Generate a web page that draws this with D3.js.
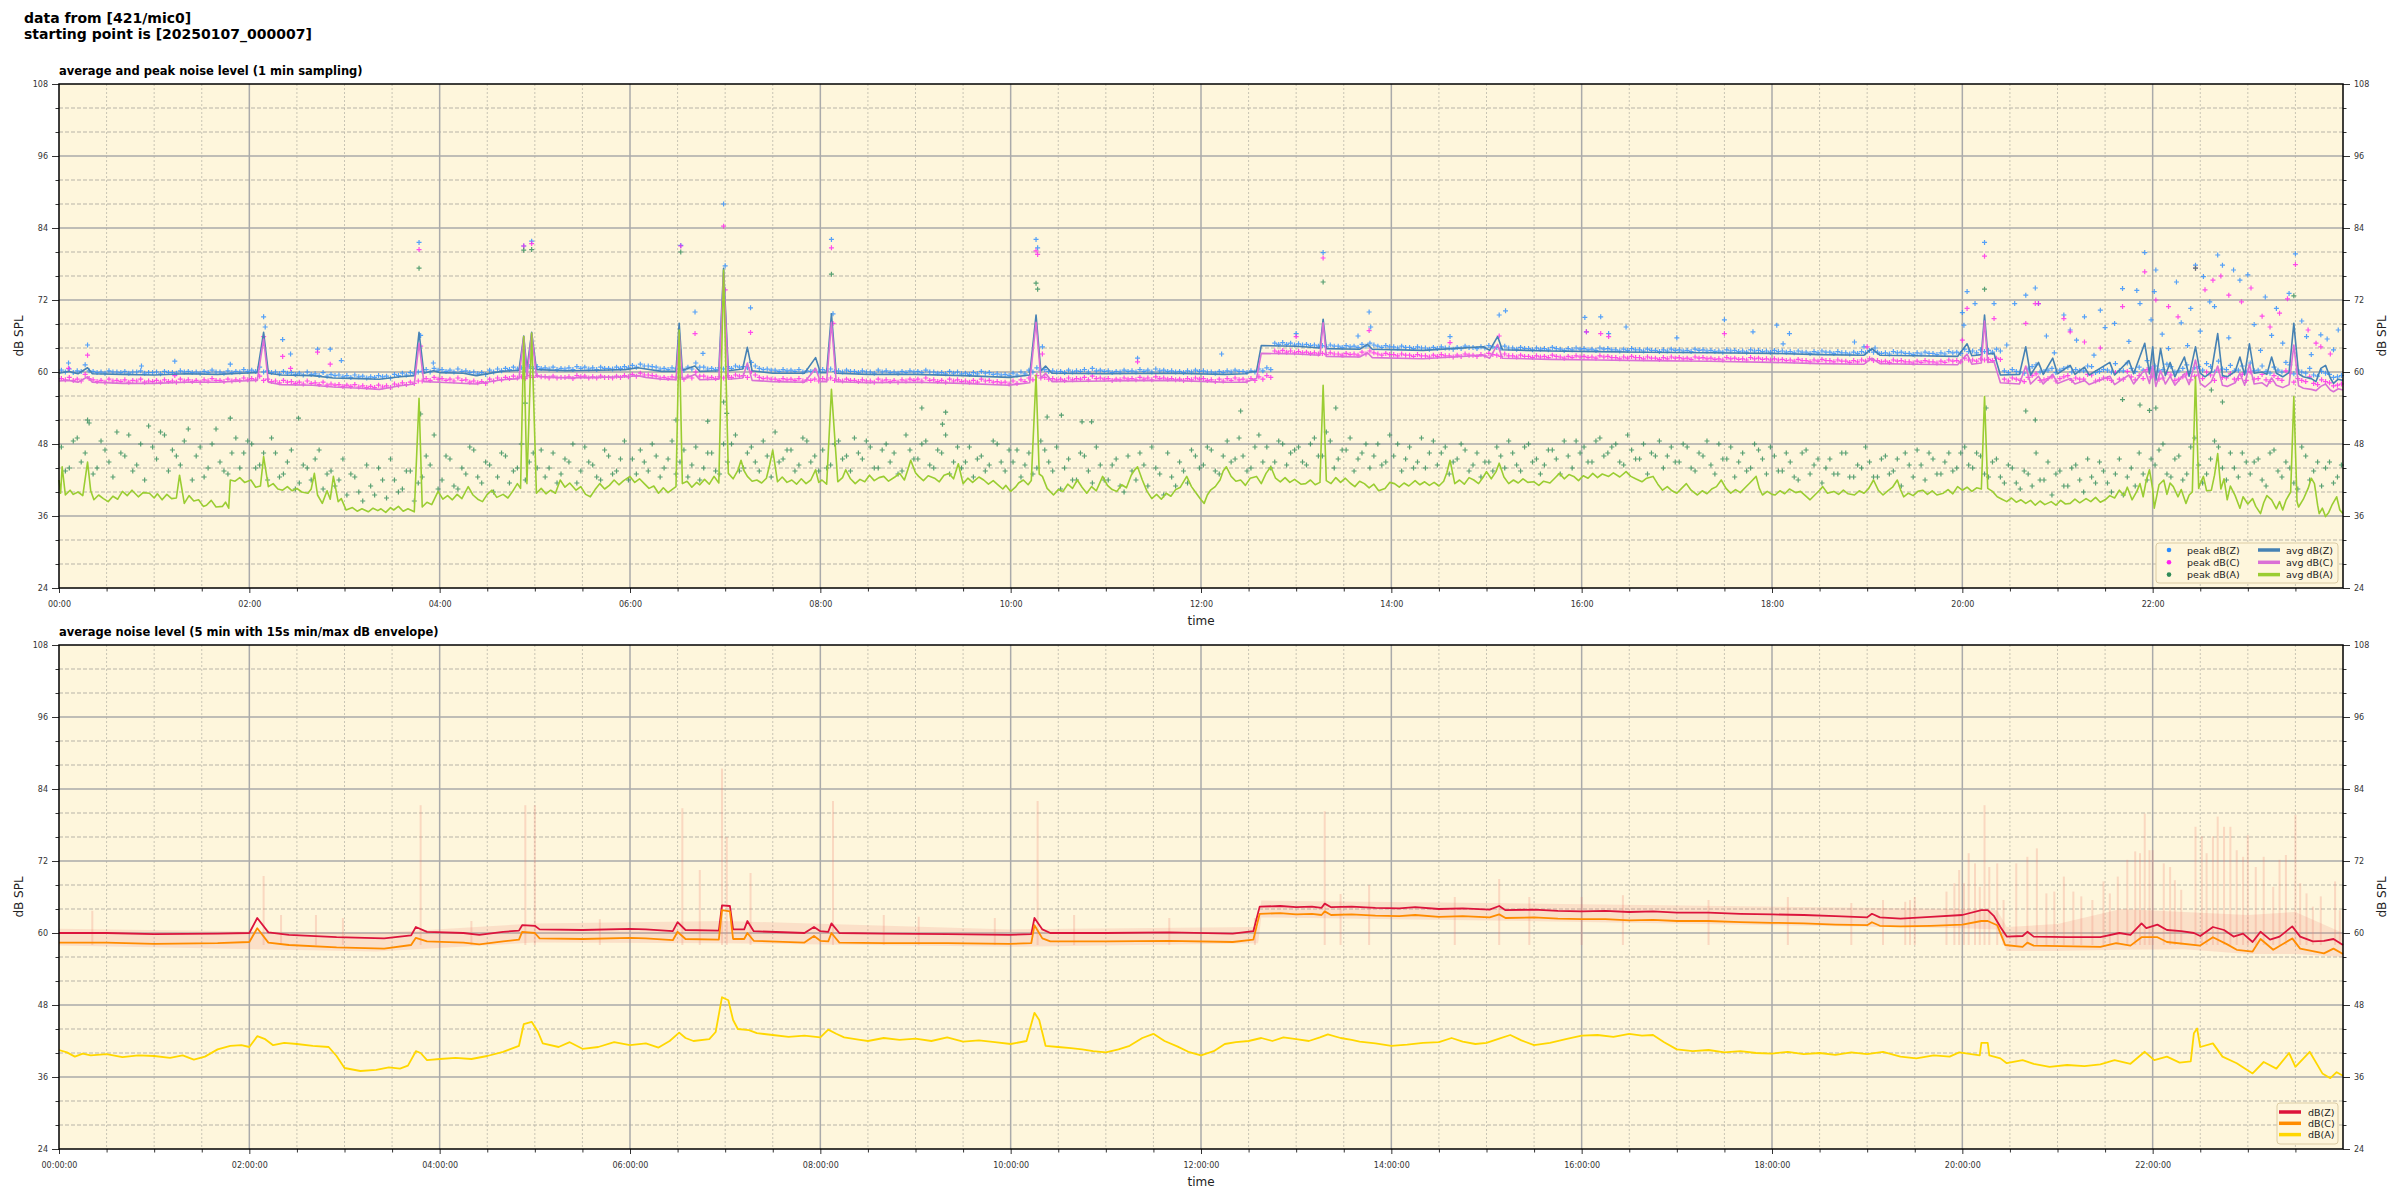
<!DOCTYPE html>
<html lang="en">
<head>
<meta charset="UTF-8">
<title>noise level</title>
<script src="https://cdn.jsdelivr.net/npm/d3@7"></script>
<style>
  body { margin: 0; background: #fff; }
  text { font-family: "DejaVu Sans", sans-serif; fill: #222; }
  .tick text { font-size: 8px; fill: #333; }
  .title { font-weight: bold; font-size: 14px; fill: #000; }
  .subtitle { font-weight: bold; font-size: 11.5px; fill: #000; }
  .label { font-size: 12px; fill: #222; }
  .legend text { font-size: 9.5px; fill: #222; }
  .domain { display: none; }
</style>
</head>
<body>
<svg width="2400" height="1200"></svg>
<script>
// ---- data (minutes from 00:00, dB SPL) ----
var hourTicks = [0, 120, 240, 360, 480, 600, 720, 840, 960, 1080, 1200, 1320];
var yMajor = [24, 36, 48, 60, 72, 84, 96, 108];

// 1 min averages, breakpoints [minute, dB]
var avgZ = [[0,59.8],[6,60.1],[12,59.7],[18,60.7],[21,59.7],[40,59.6],[60,59.5],[80,59.7],[100,59.6],[115,59.8],[125,59.9],[129,66.6],[132,59.8],[140,59.5],[160,59.4],[173,59.0],[190,58.9],[202,58.8],[215,59.2],[224,59.4],[227,66.6],[230,59.8],[236,60.2],[240,59.9],[255,59.8],[263,59.4],[279,60.1],[290,60.3],[293,66.0],[295,60.4],[298,66.6],[301,60.4],[320,60.2],[340,60.3],[357,60.4],[365,60.7],[370,60.5],[380,60.1],[389,60.1],[391,68.1],[393,60.3],[401,61.0],[404,60.1],[416,60.2],[419,77.3],[422,60.2],[431,60.5],[434,64.1],[437,60.2],[450,59.8],[470,59.8],[477,62.4],[480,59.9],[484,59.9],[487,69.7],[490,59.8],[510,59.6],[540,59.6],[570,59.4],[599,59.1],[612,59.5],[616,69.5],[619,60.2],[622,61.0],[626,59.8],[660,59.7],[700,59.8],[735,59.6],[748,59.7],[751,60.0],[755,60.1],[758,64.4],[780,64.3],[795,64.0],[797,68.8],[799,63.9],[820,63.8],[825,64.6],[828,63.8],[860,63.6],[898,64.2],[902,63.6],[907,65.9],[910,63.7],[940,63.5],[970,63.4],[1000,63.3],[1040,63.2],[1080,63.1],[1110,62.9],[1138,62.8],[1143,63.9],[1148,62.8],[1170,62.7],[1197,62.6],[1203,64.7],[1206,62.7],[1212,62.9],[1214,69.5],[1216,63.0],[1220,63.1],[1224,59.5],[1236,59.6],[1240,64.2],[1243,59.5],[1248,61.6],[1251,59.6],[1257,62.3],[1260,59.7],[1268,61.1],[1271,59.6],[1277,60.8],[1280,59.5],[1293,61.6],[1296,59.5],[1305,61.9],[1308,59.7],[1315,64.8],[1318,59.7],[1320,64.2],[1322,58.6],[1325,63.9],[1328,59.4],[1331,61.6],[1334,59.2],[1340,62.5],[1343,59.3],[1347,64.2],[1350,59.8],[1353,59.2],[1357,60.0],[1361,66.4],[1364,59.4],[1367,59.2],[1372,60.1],[1375,62.5],[1378,59.5],[1381,64.7],[1384,59.8],[1389,60.0],[1392,59.6],[1395,62.5],[1398,59.8],[1402,59.2],[1406,59.9],[1409,68.1],[1412,59.7],[1415,59.2],[1420,58.9],[1423,58.4],[1426,60.6],[1429,61.1],[1432,59.0],[1434,58.1],[1437,58.8],[1440,58.6]];

var avgC = [[0,58.5],[6,58.6],[12,58.3],[18,59.2],[21,58.3],[40,58.1],[60,58.1],[80,58.3],[100,58.3],[115,58.5],[125,58.6],[129,65.5],[132,58.3],[140,57.9],[160,57.8],[173,57.5],[190,57.3],[202,57.1],[215,57.7],[224,58.0],[227,64.8],[230,58.4],[240,58.3],[263,58.0],[279,58.7],[290,58.9],[293,65.9],[295,59.1],[298,66.4],[301,59.3],[320,59.0],[340,59.1],[357,59.2],[365,59.4],[370,59.1],[380,58.8],[389,58.7],[391,66.5],[393,58.8],[401,59.6],[404,58.7],[416,58.8],[419,76.5],[422,58.8],[431,59.0],[434,61.5],[437,58.6],[450,58.4],[470,58.3],[477,60.6],[480,58.4],[484,58.4],[487,68.3],[490,58.4],[510,58.2],[540,58.3],[570,58.1],[599,57.8],[612,58.2],[616,68.3],[619,59.0],[622,59.8],[626,58.4],[660,58.5],[700,58.6],[735,58.3],[748,58.3],[751,58.6],[755,58.9],[758,63.1],[780,63.0],[795,62.8],[797,68.2],[799,62.6],[820,62.5],[825,63.2],[828,62.4],[860,62.2],[898,62.8],[902,62.3],[907,64.6],[910,62.3],[940,62.1],[970,62.0],[1000,61.9],[1040,61.8],[1080,61.6],[1110,61.4],[1138,61.3],[1143,62.3],[1148,61.4],[1170,61.3],[1197,61.2],[1203,63.0],[1206,61.3],[1212,61.5],[1214,68.5],[1216,61.6],[1220,61.7],[1224,58.2],[1236,58.0],[1240,61.0],[1243,58.0],[1248,59.3],[1251,58.0],[1257,59.6],[1260,58.1],[1268,58.9],[1271,58.0],[1277,58.6],[1280,57.9],[1293,59.3],[1296,57.9],[1305,59.5],[1308,58.0],[1315,60.4],[1318,58.1],[1320,61.0],[1322,57.6],[1325,60.2],[1328,58.0],[1331,59.3],[1334,57.8],[1340,59.7],[1343,57.9],[1347,62.0],[1350,58.1],[1353,57.5],[1357,58.4],[1361,61.0],[1364,57.8],[1367,57.6],[1372,58.2],[1375,59.8],[1378,57.8],[1381,61.3],[1384,58.0],[1389,58.2],[1392,57.6],[1395,59.0],[1398,57.8],[1402,57.4],[1406,57.9],[1409,64.5],[1412,57.7],[1415,57.3],[1420,57.1],[1423,56.9],[1426,57.6],[1429,58.0],[1432,57.0],[1434,56.7],[1437,57.2],[1440,57.0]];

var avgA = [[0,42.0],[1,39.8],[2,44.2],[4,39.5],[7,40.3],[9,39.6],[12,40.0],[15,39.4],[18,45.0],[20,40.2],[22,38.7],[25,39.5],[28,38.9],[31,38.4],[34,39.3],[37,38.8],[40,40.1],[43,39.4],[46,40.3],[50,39.2],[53,39.9],[57,39.8],[60,39.0],[62,39.7],[65,38.7],[68,39.6],[71,38.9],[74,39.0],[76,42.8],[79,38.1],[82,39.4],[85,38.5],[88,38.7],[91,37.6],[93,37.8],[96,38.6],[99,37.5],[103,37.6],[105,38.3],[107,37.3],[108,42.0],[111,41.8],[114,42.4],[117,41.6],[121,42.0],[124,40.8],[127,41.0],[129,45.9],[132,40.9],[135,41.4],[138,40.5],[141,40.3],[144,40.9],[147,40.2],[150,40.6],[153,40.0],[157,39.8],[159,40.5],[161,43.1],[163,39.5],[166,38.1],[169,40.2],[171,38.8],[173,42.6],[176,38.4],[178,38.9],[181,37.0],[185,37.4],[188,36.8],[191,37.2],[195,36.7],[198,37.3],[201,36.9],[203,37.2],[206,36.6],[209,37.4],[211,37.0],[214,37.6],[217,36.8],[220,37.2],[224,36.7],[227,55.6],[229,37.5],[232,38.3],[235,37.9],[239,40.1],[242,38.8],[245,39.4],[248,38.7],[251,39.6],[254,38.9],[258,40.9],[261,39.5],[264,38.8],[267,38.4],[270,39.6],[273,40.3],[276,39.1],[280,39.6],[283,39.0],[286,40.1],[289,41.4],[291,40.6],[293,65.9],[295,41.4],[298,66.5],[301,39.8],[304,40.6],[307,39.7],[310,40.3],[313,39.8],[316,42.0],[319,40.8],[322,41.5],[326,40.3],[329,40.9],[332,39.6],[335,39.2],[338,40.4],[341,41.4],[344,40.5],[347,41.1],[350,42.0],[353,41.2],[356,41.9],[360,42.6],[363,41.6],[366,42.2],[369,41.4],[372,40.6],[375,41.0],[378,39.8],[381,40.7],[384,39.9],[386,40.3],[389,40.9],[391,67.0],[393,41.4],[396,41.8],[399,40.8],[402,41.6],[404,41.2],[407,42.1],[410,41.3],[413,42.6],[416,41.5],[419,77.0],[422,43.1],[425,42.2],[428,43.6],[430,45.3],[432,43.5],[434,42.6],[437,41.8],[440,42.0],[443,41.5],[446,42.3],[448,44.5],[450,47.0],[453,41.7],[456,42.5],[459,41.6],[462,42.0],[465,41.3],[468,42.2],[471,41.4],[474,42.0],[477,43.7],[479,41.6],[481,42.0],[484,41.3],[487,57.1],[491,41.7],
[494,42.4],[496,43.7],[499,42.2],[502,41.4],[505,42.1],[508,41.7],[511,42.8],[514,41.9],[517,42.4],[520,42.6],[523,41.8],[527,42.5],[530,43.1],[533,42.0],[535,43.6],[537,45.3],[540,43.2],[542,42.6],[545,41.9],[548,42.7],[552,42.3],[555,41.7],[558,42.8],[561,43.1],[564,42.2],[567,44.7],[570,41.4],[573,42.3],[576,41.6],[580,42.5],[583,42.0],[586,41.3],[589,41.9],[592,41.2],[595,40.5],[597,41.1],[600,40.1],[603,40.8],[605,41.5],[608,42.0],[611,41.2],[613,41.9],[616,59.5],[618,43.0],[620,42.6],[623,40.6],[627,39.5],[630,40.4],[633,40.1],[636,41.3],[639,40.6],[642,42.0],[645,40.8],[648,39.8],[651,40.9],[654,40.2],[658,42.6],[661,41.1],[664,40.4],[667,40.1],[670,41.2],[673,40.7],[676,42.8],[678,43.6],[680,44.2],[683,42.0],[686,40.1],[689,38.9],[692,39.6],[695,38.8],[698,39.8],[701,39.3],[704,40.4],[707,40.8],[711,42.6],[714,40.9],[717,39.8],[720,38.7],[722,38.1],[724,39.5],[726,40.3],[729,40.9],[732,42.0],[734,43.5],[736,44.2],[739,42.6],[742,41.8],[745,42.0],[748,41.1],[751,42.3],[755,42.6],[758,41.4],[761,43.1],[764,44.2],[767,42.3],[770,41.7],[773,42.4],[776,41.6],[779,42.1],[783,41.3],[786,41.4],[789,42.0],[792,41.2],[795,41.6],[797,57.8],[799,41.9],[802,41.4],[805,42.4],[808,41.6],[811,42.3],[814,41.5],[817,40.9],[820,41.8],[823,41.4],[826,40.7],[829,41.3],[832,40.2],[836,40.6],[839,41.6],[842,41.4],[845,40.8],[848,41.5],[851,41.0],[855,41.9],[858,41.2],[861,41.7],[864,41.1],[867,41.6],[870,41.0],[873,41.8],[875,43.2],[877,45.3],[880,41.4],[883,42.0],[886,41.3],[889,42.4],[892,42.0],[895,41.4],[898,42.5],[900,43.4],[903,42.2],[906,43.4],[908,44.8],[911,42.5],[914,41.4],[917,42.0],[920,41.5],[923,42.2],[926,41.6],[930,41.7],[933,41.1],[936,41.8],[940,41.5],[943,42.3],[946,43.1],[949,42.2],[952,42.9],[955,42.6],[958,41.9],[961,42.7],[964,42.3],[967,43.1],
[970,42.4],[973,43.0],[977,42.6],[980,43.2],[984,42.5],[988,43.4],[991,42.6],[994,42.2],[998,41.7],[1001,42.3],[1005,42.6],[1008,41.3],[1011,40.3],[1014,40.9],[1017,40.2],[1020,39.8],[1023,40.6],[1026,41.4],[1029,40.3],[1033,39.5],[1036,40.2],[1039,39.7],[1042,40.5],[1045,40.9],[1048,42.0],[1051,40.6],[1054,39.8],[1057,40.4],[1060,39.9],[1063,40.7],[1066,41.5],[1070,42.6],[1072,40.6],[1074,39.5],[1077,40.1],[1080,39.6],[1082,39.5],[1085,40.2],[1088,39.7],[1091,40.5],[1095,39.9],[1098,40.1],[1101,39.4],[1104,38.7],[1107,39.5],[1110,40.3],[1112,40.9],[1115,39.8],[1119,40.1],[1122,39.6],[1125,40.3],[1128,39.7],[1132,39.5],[1135,40.2],[1138,39.8],[1141,40.6],[1144,42.0],[1147,40.3],[1150,39.5],[1153,40.2],[1156,40.8],[1159,42.0],[1161,40.4],[1163,39.2],[1166,39.8],[1169,39.4],[1172,40.1],[1175,40.3],[1178,39.6],[1181,40.2],[1184,39.5],[1188,39.8],[1191,40.4],[1194,39.7],[1197,40.9],[1200,40.3],[1203,40.8],[1206,40.1],[1209,40.7],[1212,40.5],[1214,55.9],[1216,40.6],[1219,40.1],[1222,39.2],[1225,38.8],[1228,38.4],[1231,39.0],[1234,38.3],[1237,38.7],[1240,38.1],[1243,38.6],[1246,37.8],[1249,38.5],[1252,37.9],[1256,38.4],[1259,37.8],[1262,38.6],[1265,38.0],[1268,38.1],[1271,38.8],[1274,38.2],[1278,38.9],[1281,38.4],[1284,39.1],[1287,38.3],[1290,38.7],[1293,39.4],[1296,39.0],[1299,40.3],[1302,39.4],[1304,40.8],[1307,38.7],[1310,40.1],[1312,41.4],[1314,39.2],[1316,42.0],[1318,43.7],[1320,40.5],[1321,37.3],[1324,41.2],[1327,42.0],[1329,39.6],[1331,41.5],[1333,40.9],[1336,39.2],[1338,40.4],[1341,38.1],[1343,39.5],[1345,40.0],[1347,59.2],[1349,40.6],[1350,41.4],[1352,42.6],[1354,40.2],[1357,40.3],[1359,42.8],[1361,46.4],[1363,40.5],[1365,42.2],[1367,38.7],[1369,41.0],[1372,39.4],[1375,37.3],[1377,39.2],[1380,38.0],[1383,38.9],[1385,37.6],[1388,36.4],[1390,38.2],[1392,39.4],[1395,38.7],[1398,37.2],[1400,38.4],[1402,37.0],[1404,38.6],[1407,40.0],[1409,55.9],[1411,38.4],[1412,37.5],[1415,38.8],[1418,40.6],[1420,42.3],[1422,41.4],[1424,37.8],[1425,36.4],[1427,37.3],[1429,35.9],[1431,36.6],[1433,37.8],[1436,39.2],[1438,37.0],[1440,36.4]];

// peak values, one every 5 minutes (12 per hour, one row per hour), two samples per slot
var peakZ5 = [
60.3,60.5,60.2,61.2,60.1,60.0,60.2,60.0,60.1,60.0,60.2,59.9,
60.0,60.1,59.9,60.2,60.1,60.0,60.1,60.3,60.0,60.2,60.1,60.4,
60.3,60.8,60.2,60.0,60.1,59.9,59.8,60.0,59.7,59.9,59.6,59.5,
59.4,59.5,59.3,59.2,59.4,59.3,59.6,59.8,59.9,60.0,60.4,60.6,
60.4,60.3,60.5,60.2,60.0,59.9,60.3,60.5,60.6,60.8,60.7,60.9,
60.9,60.7,60.8,60.6,60.7,60.9,60.8,60.7,60.8,60.6,60.8,60.9,
61.1,61.3,61.0,60.8,60.6,60.7,60.6,60.8,61.5,60.8,60.6,60.7,
60.9,61.0,60.9,61.6,60.6,60.5,60.3,60.4,60.3,60.4,60.2,60.3,
60.4,60.5,60.2,60.3,60.1,60.2,60.0,60.3,60.2,60.0,60.1,60.2,
60.1,60.3,60.0,59.9,60.1,60.0,59.8,59.9,60.1,59.9,59.7,59.6,
59.8,60.0,60.3,60.7,60.4,60.2,60.1,60.3,60.2,60.4,60.6,60.3,
60.2,60.1,60.3,60.2,60.4,60.3,60.5,60.3,60.2,60.1,60.2,60.3,
60.2,60.0,60.1,60.2,60.3,60.1,60.2,60.5,60.7,64.8,64.9,64.8,
64.7,64.6,64.5,64.4,64.5,64.3,64.4,64.3,64.6,64.8,64.3,64.4,
64.2,64.3,64.1,64.2,64.0,64.1,64.2,64.0,64.1,64.3,64.1,64.2,
64.4,64.1,64.3,64.0,64.1,63.9,64.0,63.9,64.1,63.8,63.9,64.0,
63.9,63.8,64.0,63.9,63.7,63.8,63.9,63.7,63.8,63.6,63.7,63.8,
63.7,63.6,63.8,63.7,63.6,63.5,63.7,63.6,63.5,63.7,63.6,63.5,
63.6,63.5,63.4,63.5,63.3,63.4,63.5,63.3,63.4,63.2,63.3,63.4,
63.6,63.3,63.2,63.4,63.3,63.1,63.2,63.3,63.1,63.2,63.4,63.3,
63.8,63.5,63.7,63.6,63.8,60.2,60.4,60.0,60.5,61.2,60.1,60.6,
60.3,60.8,60.4,60.2,60.9,60.1,60.3,61.4,60.2,60.6,60.8,61.9,
61.0,60.4,60.9,60.2,61.2,60.7,60.3,60.9,61.8,60.4,60.2,61.0,
61.5,60.3,60.1,60.8,60.0,61.2,60.3,59.8,59.5,60.1,59.6,59.2];
var peakZ5b = [
60.0,59.9,60.1,60.2,59.9,59.8,60.0,59.9,59.8,60.0,59.8,59.9,
59.7,59.9,59.8,60.0,59.9,59.8,59.9,60.0,59.8,59.9,60.0,60.1,
60.1,60.0,59.9,59.7,59.8,59.6,59.5,59.6,59.4,59.3,59.4,59.2,
59.1,59.2,59.0,59.1,59.2,59.0,59.4,59.5,59.7,60.1,60.0,60.3,
60.1,60.0,60.1,59.9,59.7,59.6,60.0,60.2,60.4,60.5,60.4,60.6,
60.6,60.5,60.4,60.5,60.4,60.6,60.5,60.4,60.6,60.5,60.6,60.7,
60.8,61.0,60.9,60.5,60.4,60.5,60.3,60.5,60.8,60.5,60.4,60.5,
60.6,60.8,60.7,61.0,60.4,60.3,60.1,60.2,60.1,60.0,60.1,60.0,
60.2,60.1,60.0,60.1,59.9,60.0,59.8,60.0,59.9,59.8,59.9,60.0,
59.9,60.0,59.8,59.7,59.8,59.7,59.6,59.7,59.8,59.6,59.5,59.4,
59.5,59.7,60.0,60.3,60.1,60.0,59.9,60.0,60.1,60.0,60.2,60.1,
59.9,60.0,60.1,60.0,60.1,60.0,60.2,60.1,60.0,59.9,60.0,60.1,
60.0,59.8,59.9,60.0,60.1,59.9,60.0,60.2,60.4,64.6,64.6,64.5,
64.5,64.4,64.3,64.2,64.3,64.1,64.2,64.1,64.3,64.5,64.1,64.2,
64.0,64.1,63.9,64.0,63.8,63.9,64.0,63.8,63.9,64.1,63.9,64.0,
64.2,63.9,64.0,63.8,63.9,63.7,63.8,63.7,63.9,63.6,63.7,63.8,
63.7,63.6,63.8,63.7,63.5,63.6,63.7,63.5,63.6,63.4,63.5,63.6,
63.5,63.4,63.6,63.5,63.4,63.3,63.5,63.4,63.3,63.5,63.4,63.3,
63.4,63.3,63.2,63.3,63.1,63.2,63.3,63.1,63.2,63.0,63.1,63.2,
63.3,63.1,63.0,63.2,63.1,62.9,63.0,63.1,62.9,63.0,63.2,63.1,
63.4,63.2,63.4,63.3,63.5,59.9,60.1,59.8,60.9,60.0,60.3,59.9,
60.6,60.0,60.2,61.0,59.9,60.4,60.0,60.2,61.5,60.1,60.3,60.6,
60.2,61.3,60.0,60.6,60.1,60.9,61.4,60.0,60.5,61.1,60.3,60.0,
60.2,61.0,59.8,60.3,61.6,59.7,60.0,60.6,59.3,59.8,59.1,59.4];

var peakC5 = [
58.9,59.1,58.8,59.6,58.7,58.6,58.8,58.6,58.7,58.6,58.8,58.5,
58.6,58.7,58.5,58.8,58.7,58.6,58.7,58.9,58.6,58.8,58.7,59.0,
58.9,59.3,58.8,58.5,58.6,58.4,58.3,58.5,58.2,58.3,58.0,57.9,
57.8,57.9,57.7,57.6,57.8,57.7,58.0,58.2,58.3,58.5,58.9,59.1,
58.9,58.8,59.0,58.7,58.5,58.4,58.8,59.0,59.1,59.3,59.2,59.4,
59.4,59.2,59.3,59.1,59.2,59.4,59.3,59.2,59.3,59.1,59.3,59.4,
59.6,59.8,59.5,59.3,59.1,59.2,59.1,59.3,60.0,59.3,59.1,59.2,
59.4,59.5,59.4,60.1,59.1,59.0,58.8,58.9,58.8,58.9,58.7,58.8,
58.9,59.0,58.7,58.8,58.6,58.7,58.5,58.8,58.7,58.6,58.7,58.8,
58.8,59.0,58.7,58.6,58.8,58.7,58.5,58.6,58.8,58.6,58.4,58.3,
58.5,58.7,59.0,59.4,59.1,58.9,58.8,59.0,58.9,59.1,59.3,59.0,
58.9,58.8,59.0,58.9,59.1,59.0,59.2,59.0,58.9,58.8,58.9,59.0,
58.9,58.7,58.8,58.9,59.0,58.8,58.9,59.2,59.4,63.5,63.6,63.5,
63.4,63.3,63.2,63.1,63.2,63.0,63.1,63.0,63.3,63.5,63.0,63.1,
62.9,63.0,62.8,62.9,62.7,62.8,62.9,62.7,62.8,63.0,62.8,62.9,
63.1,62.8,63.0,62.7,62.8,62.6,62.7,62.6,62.8,62.5,62.6,62.7,
62.6,62.5,62.7,62.6,62.4,62.5,62.6,62.4,62.5,62.3,62.4,62.5,
62.4,62.3,62.5,62.4,62.3,62.2,62.4,62.3,62.2,62.4,62.3,62.2,
62.2,62.1,62.0,62.1,61.9,62.0,62.1,61.9,62.0,61.8,61.9,62.0,
62.2,61.9,61.8,62.0,61.9,61.7,61.8,61.9,61.7,61.8,62.0,61.9,
62.3,62.0,62.2,62.1,62.3,58.8,59.0,58.6,59.1,59.7,58.7,59.2,
58.9,59.4,59.0,58.8,59.5,58.7,58.9,59.9,58.8,59.2,59.4,60.4,
59.5,59.0,59.5,58.8,59.7,59.3,58.9,59.5,60.3,59.0,58.8,59.6,
60.0,58.9,58.7,59.4,58.6,59.8,58.9,58.4,58.1,58.7,58.2,57.8];
var peakC5b = [
58.7,58.6,58.5,58.9,58.4,58.3,58.5,58.4,58.3,58.5,58.3,58.4,
58.3,58.4,58.3,58.5,58.4,58.3,58.5,58.6,58.4,58.5,58.6,58.7,
58.7,58.6,58.4,58.2,58.3,58.1,58.0,58.1,57.9,57.8,57.8,57.6,
57.6,57.5,57.4,57.4,57.5,57.4,57.8,57.9,58.1,58.5,58.6,58.8,
58.6,58.5,58.6,58.3,58.2,58.1,58.5,58.7,58.9,59.0,58.9,59.1,
59.2,59.0,59.0,59.1,58.9,59.2,59.0,59.0,59.1,59.0,59.1,59.2,
59.3,59.5,59.4,59.0,58.9,59.0,58.8,59.0,59.3,59.0,58.9,59.0,
59.1,59.3,59.1,59.5,58.9,58.8,58.6,58.7,58.6,58.5,58.6,58.5,
58.7,58.6,58.5,58.6,58.4,58.5,58.3,58.5,58.4,58.3,58.5,58.6,
58.5,58.6,58.4,58.3,58.5,58.4,58.3,58.3,58.5,58.3,58.2,58.0,
58.1,58.4,58.7,59.0,58.8,58.7,58.6,58.7,58.8,58.7,58.9,58.8,
58.6,58.7,58.8,58.7,58.8,58.7,58.9,58.8,58.7,58.6,58.7,58.8,
58.6,58.4,58.5,58.6,58.7,58.5,58.6,58.8,59.1,63.3,63.3,63.2,
63.2,63.1,63.0,62.9,63.0,62.8,62.9,62.8,63.0,63.2,62.8,62.9,
62.7,62.8,62.6,62.7,62.5,62.6,62.7,62.5,62.6,62.8,62.6,62.7,
62.9,62.6,62.7,62.5,62.6,62.4,62.5,62.4,62.6,62.3,62.4,62.5,
62.4,62.3,62.5,62.4,62.2,62.3,62.4,62.2,62.3,62.1,62.2,62.3,
62.2,62.1,62.3,62.2,62.1,62.0,62.2,62.1,62.0,62.2,62.1,62.0,
62.0,61.9,61.8,61.9,61.7,61.8,61.9,61.7,61.8,61.6,61.7,61.8,
61.9,61.7,61.6,61.8,61.7,61.5,61.6,61.7,61.5,61.6,61.8,61.7,
62.0,61.8,62.0,61.9,62.1,58.5,58.8,58.4,59.4,58.6,58.9,58.5,
59.2,58.6,58.8,59.6,58.5,59.0,58.6,58.8,60.1,58.7,58.9,59.2,
58.8,59.9,58.6,59.2,58.7,59.5,60.0,58.6,59.1,59.7,58.9,58.6,
58.8,59.6,58.4,58.9,60.2,58.3,58.6,59.2,57.9,58.4,57.7,58.0];

var peakA5 = [
47.5,44.0,49.0,46.5,43.0,48.5,45.0,50.0,46.0,43.5,48.0,51.0,
45.5,49.5,47.0,44.5,50.5,46.0,42.5,48.0,45.0,43.0,49.0,46.5,
48.0,44.5,42.0,46.5,43.0,47.0,41.5,44.0,45.5,40.5,43.5,42.0,
39.5,42.5,38.5,41.0,44.0,39.0,42.0,40.5,43.5,41.5,46.0,49.5,
42.0,45.5,40.5,43.0,47.0,41.5,44.5,42.5,46.0,43.5,48.0,45.0,
44.0,42.5,46.5,43.0,45.0,41.5,47.5,44.5,42.0,46.0,43.5,48.5,
45.5,47.0,43.5,46.0,44.0,48.5,45.0,42.5,47.5,44.0,46.5,43.0,
45.0,49.5,44.0,47.5,43.5,46.0,50.0,45.5,47.0,44.5,48.5,46.0,
47.0,44.5,48.5,46.0,49.0,45.5,47.5,44.0,48.0,46.5,43.5,47.0,
45.5,48.5,44.0,46.5,43.0,47.5,45.0,42.5,46.0,44.5,48.0,43.5,
45.0,42.5,46.5,44.0,47.0,43.5,40.5,45.5,42.0,46.0,41.5,44.5,
42.0,45.5,40.0,43.5,46.5,41.0,44.0,39.5,42.5,45.0,41.5,46.0,
44.5,47.0,43.0,48.5,45.5,46.0,44.0,49.5,47.5,45.0,48.0,46.5,
47.5,44.5,49.0,46.0,48.5,45.5,47.0,43.5,46.5,44.0,48.0,45.0,
46.0,43.5,47.5,45.0,44.0,48.5,46.5,43.0,45.5,47.0,44.5,42.5,
45.0,47.5,44.0,46.5,43.5,48.0,45.5,44.5,47.0,43.0,46.0,48.5,
47.5,45.0,49.0,46.5,48.0,44.5,47.0,45.5,43.0,46.0,44.0,47.5,
45.0,47.5,43.5,46.0,44.5,48.0,45.5,42.5,46.5,44.0,47.0,43.0,
46.0,43.5,45.0,42.0,47.0,44.5,41.5,45.5,43.0,46.5,42.5,44.0,
45.0,42.5,46.0,43.5,41.0,44.5,47.0,42.0,45.5,43.0,46.5,44.0,
47.5,44.0,46.0,42.5,45.5,41.5,44.0,40.5,43.0,46.5,42.0,39.5,
43.5,41.0,44.5,40.0,42.5,45.0,41.5,43.0,39.5,44.0,46.5,42.0,
44.5,48.0,42.5,46.0,43.0,49.0,41.5,45.5,47.5,42.0,44.0,46.5,
43.0,45.5,41.0,47.0,42.5,44.0,40.5,46.0,43.5,41.0,45.0,42.5];
var peakA5b = [
43.5,48.5,45.0,51.5,44.0,47.0,42.5,46.5,49.5,44.5,42.0,47.5,
50.0,43.5,46.0,48.5,42.0,47.5,44.0,50.5,43.5,46.5,44.0,48.5,
44.0,46.5,49.0,42.5,45.0,40.5,44.5,42.0,47.0,43.0,41.0,45.5,
43.0,40.0,44.5,39.5,42.0,45.5,40.0,43.5,38.5,42.5,44.5,40.5,
46.0,41.0,44.0,47.5,42.5,45.0,40.0,46.5,41.5,44.0,42.0,46.5,
47.0,44.0,41.5,45.5,48.0,43.5,45.0,42.5,47.0,43.0,45.5,42.0,
43.0,45.0,48.0,42.5,45.5,43.0,47.0,44.5,42.0,46.5,43.5,48.0,
48.0,43.5,46.5,45.0,48.5,42.5,45.0,47.0,43.5,49.0,45.0,43.5,
44.0,48.0,45.5,43.5,46.5,48.5,44.0,47.0,45.0,43.0,49.5,45.5,
48.0,44.5,47.0,49.5,45.0,44.0,47.5,45.5,43.5,48.5,45.0,47.0,
47.0,44.5,43.0,48.5,45.0,47.5,44.0,42.0,46.5,43.5,47.5,42.0,
44.5,41.0,46.0,42.0,44.5,47.5,43.0,46.5,41.0,43.5,47.0,44.0,
47.5,43.5,46.0,45.0,49.0,43.5,47.5,45.0,44.0,48.5,44.5,47.0,
45.0,48.0,46.0,50.0,44.0,47.0,49.0,45.5,48.0,46.0,44.5,49.5,
48.0,45.5,44.0,49.0,46.5,44.5,47.5,45.0,48.0,43.5,46.5,45.0,
43.5,46.0,48.5,44.5,47.5,45.0,43.0,47.0,45.5,48.5,44.0,46.5,
45.0,48.5,46.0,47.5,45.0,49.5,45.5,48.0,46.5,48.5,46.0,45.0,
48.0,44.0,46.5,48.5,43.0,45.5,47.5,45.0,43.5,48.0,45.5,47.5,
43.5,46.5,42.5,46.5,43.0,45.5,44.0,43.0,46.5,42.5,44.5,47.5,
42.5,45.5,43.0,45.5,46.5,42.5,44.5,46.5,43.0,45.0,43.5,46.5,
44.5,46.5,43.0,45.0,42.5,44.5,41.5,43.5,41.0,42.0,45.0,43.0,
41.0,44.0,42.0,45.5,41.5,43.5,40.0,45.5,42.5,41.0,43.0,45.5,
47.0,43.0,45.5,42.0,47.5,44.5,43.0,48.5,44.0,46.5,42.5,45.0,
45.0,42.0,46.5,43.5,45.0,41.5,47.5,42.0,45.0,44.0,41.5,44.5];

// isolated high peaks [minute, dB]
var peakZHi = [[6,61.5],[18,64.5],[52,61.0],[73,61.8],[108,61.3],[129,69.2],[130,67.5],[141,65.4],[146,63.0],[163,63.8],[171,63.8],[178,61.9],[227,81.6],[228,66.1],[236,61.5],[293,81.0],[298,81.8],[392,81.1],[401,70.0],[406,63.1],[419,88.0],[420,77.7],[436,70.7],[487,82.1],[488,69.7],[616,82.1],[617,80.7],[620,64.2],[680,62.3],[733,63.0],[780,66.4],[797,79.9],[819,66.0],[826,70.0],[827,67.5],[877,65.9],[908,69.5],[912,70.2],[962,69.1],[963,66.7],[972,69.2],[977,66.4],[988,67.5],[1020,65.7],[1050,68.7],[1068,66.7],[1083,67.8],[1087,64.7],[1091,66.4],[1132,65.0],[1138,64.2],[1145,64.0],[1200,69.9],[1201,67.8],[1203,73.4],[1208,71.4],[1214,81.6],[1220,71.4],[1228,64.5],[1233,71.4],[1240,72.8],[1246,74.0],[1248,71.4],[1253,66.0],[1258,63.2],[1264,69.5],[1268,67.0],[1272,65.3],[1277,69.2],[1283,62.8],[1287,70.3],[1290,67.4],[1296,68.1],[1301,73.9],[1305,65.1],[1310,73.6],[1312,71.4],[1315,79.9],[1319,68.7],[1321,73.4],[1322,77.0],[1326,66.3],[1330,63.9],[1335,75.0],[1338,68.2],[1342,64.4],[1344,70.6],[1347,77.8],[1350,66.8],[1352,75.9],[1356,71.7],[1359,70.9],[1361,79.5],[1364,77.8],[1368,65.7],[1371,77.0],[1375,75.3],[1380,76.2],[1384,67.9],[1388,63.6],[1391,72.5],[1395,66.1],[1398,70.6],[1402,64.8],[1406,73.1],[1410,79.7],[1414,68.5],[1417,65.9],[1420,62.9],[1426,66.2],[1430,65.5],[1434,63.7],[1437,67.0]];
var peakCHi = [[6,60.6],[18,62.8],[73,59.4],[129,65.9],[141,62.6],[146,60.6],[163,63.3],[171,61.3],[227,80.4],[228,64.3],[293,81.0],[298,81.4],[392,81.0],[401,66.4],[419,84.3],[420,73.7],[436,66.6],[487,80.7],[488,68.1],[616,80.2],[617,79.6],[620,63.0],[680,61.7],[780,65.9],[797,79.0],[826,66.9],[877,64.9],[908,66.0],[963,66.7],[972,66.4],[977,65.9],[1050,66.4],[1140,64.2],[1200,65.3],[1203,70.6],[1214,79.3],[1220,68.9],[1240,68.1],[1246,71.4],[1248,71.4],[1264,68.9],[1268,66.7],[1277,65.0],[1287,64.0],[1301,70.9],[1315,76.7],[1322,72.0],[1330,70.9],[1336,69.2],[1347,77.3],[1353,73.7],[1358,75.3],[1363,76.0],[1368,72.8],[1376,71.7],[1382,74.0],[1389,69.3],[1394,67.5],[1400,69.8],[1405,72.2],[1410,77.9],[1418,67.0],[1423,64.8],[1426,64.2],[1432,63.0]];
var peakAHi = [[18,52.0],[108,52.3],[151,52.3],[227,77.3],[228,53.0],[293,80.3],[294,54.8],[298,80.4],[389,52.0],[392,80.0],[409,51.8],[419,55.0],[421,53.1],[487,76.3],[544,54.0],[557,51.3],[559,53.3],[616,74.8],[617,73.8],[623,52.5],[632,52.8],[645,51.7],[651,51.7],[745,53.5],[797,75.0],[805,54.0],[1214,73.8],[1215,54.0],[1240,53.5],[1246,52.0],[1301,55.4],[1312,54.5],[1318,53.6],[1322,54.0],[1347,77.3],[1357,57.0],[1364,55.0],[1409,72.7]];

// 5 min averages, breakpoints [minute, dB]
var lvlZ = [[0,60.0],[30,60.0],[60,59.8],[100,59.9],[120,60.0],[125,62.5],[132,60.1],[145,59.7],[175,59.3],[205,59.1],[222,59.6],[225,61.0],[232,60.2],[255,60.0],[265,59.7],[280,60.2],[290,60.4],[292,61.3],[300,61.2],[303,60.6],[330,60.5],[360,60.7],[370,60.6],[387,60.3],[390,61.8],[395,60.5],[416,60.4],[418,64.6],[423,64.5],[425,60.6],[432,60.6],[434,62.0],[438,60.3],[470,60.0],[476,61.0],[480,60.3],[485,60.2],[487,61.6],[492,60.0],[520,59.9],[560,59.8],[599,59.7],[613,59.8],[615,62.5],[620,60.6],[625,60.0],[660,60.0],[700,60.1],[740,59.9],[753,60.3],[757,64.4],[770,64.5],[780,64.3],[790,64.4],[796,64.2],[798,64.9],[802,64.3],[815,64.4],[830,64.2],[845,64.1],[855,64.3],[870,64.0],[885,64.1],[902,63.9],[908,64.5],[912,63.8],[930,63.9],[945,63.7],[960,63.6],[975,63.7],[990,63.5],[1005,63.6],[1020,63.4],[1040,63.4],[1060,63.2],[1080,63.1],[1100,63.0],[1120,62.8],[1140,62.6],[1143,63.2],[1148,62.6],[1161,62.4],[1180,62.7],[1200,63.0],[1212,63.8],[1216,63.8],[1220,62.8],[1224,61.0],[1228,59.4],[1238,59.5],[1241,60.2],[1245,59.4],[1266,59.3],[1287,59.3],[1299,60.0],[1306,59.7],[1313,61.6],[1316,60.8],[1323,61.4],[1329,60.5],[1338,60.3],[1346,60.0],[1350,59.5],[1358,61.0],[1365,60.5],[1371,59.4],[1377,59.9],[1383,58.5],[1388,60.2],[1394,58.9],[1400,59.4],[1408,61.1],[1413,59.4],[1421,58.6],[1428,58.7],[1434,59.0],[1440,58.0]];
var lvlC = [[0,58.4],[30,58.4],[60,58.2],[100,58.3],[120,58.5],[125,60.8],[132,58.4],[145,58.0],[175,57.6],[205,57.4],[222,58.0],[225,59.2],[232,58.6],[255,58.4],[265,58.1],[280,58.6],[290,58.9],[292,60.2],[300,60.0],[303,59.1],[330,59.0],[360,59.2],[370,59.1],[387,58.8],[390,60.2],[395,59.0],[416,58.9],[418,63.8],[423,63.6],[425,59.0],[432,59.0],[434,60.0],[438,58.7],[470,58.4],[476,59.5],[480,58.7],[485,58.6],[487,60.0],[492,58.4],[520,58.3],[560,58.3],[599,58.2],[613,58.3],[615,61.3],[620,59.1],[625,58.6],[660,58.6],[700,58.7],[740,58.5],[753,58.9],[757,63.2],[770,63.3],[780,63.1],[790,63.2],[796,63.0],[798,63.6],[802,63.0],[815,63.1],[830,62.9],[845,62.8],[855,63.0],[870,62.7],[885,62.8],[902,62.6],[908,63.1],[912,62.5],[930,62.6],[945,62.4],[960,62.3],[975,62.3],[990,62.1],[1005,62.2],[1020,62.0],[1040,62.0],[1060,61.8],[1080,61.7],[1100,61.6],[1120,61.4],[1140,61.3],[1143,61.8],[1148,61.2],[1161,61.1],[1180,61.2],[1200,61.4],[1212,62.0],[1216,62.0],[1222,61.3],[1227,58.0],[1238,57.7],[1241,58.4],[1245,57.9],[1287,57.7],[1297,58.3],[1306,57.9],[1313,59.3],[1323,59.3],[1329,58.5],[1350,57.9],[1358,59.3],[1367,58.1],[1373,57.2],[1383,56.9],[1388,59.0],[1396,57.2],[1408,59.1],[1413,57.4],[1428,56.6],[1434,57.4],[1440,56.5]];
var lvlA = [[0,40.5],[5,40.1],[10,39.4],[15,39.9],[20,39.6],[30,39.8],[40,39.3],[50,39.6],[60,39.5],[70,39.2],[78,39.6],[85,38.9],[92,39.4],[100,40.6],[108,41.2],[115,41.3],[120,41.0],[125,42.8],[130,42.3],[135,41.3],[142,41.7],[150,41.5],[160,41.2],[170,41.0],[175,39.5],[180,37.5],[190,37.0],[200,37.2],[208,37.6],[215,37.4],[220,37.9],[225,40.3],[228,40.0],[232,38.8],[240,39.0],[250,39.2],[260,39.0],[270,39.5],[280,40.2],[290,41.2],[293,44.8],[298,45.2],[302,43.5],[305,41.6],[315,41.0],[322,41.8],[330,40.7],[340,41.0],[350,41.8],[360,41.3],[370,41.6],[378,40.9],[385,42.0],[391,43.4],[395,42.5],[400,42.0],[410,42.3],[414,43.5],[418,49.3],[422,48.8],[425,45.5],[428,44.0],[435,43.8],[440,43.3],[450,43.0],[460,42.7],[470,42.9],[480,42.6],[485,43.9],[490,43.2],[495,42.6],[505,42.2],[510,42.0],[520,42.5],[530,42.2],[540,42.4],[550,42.0],[560,42.6],[570,41.9],[580,42.1],[590,41.8],[600,41.5],[610,42.0],[615,46.7],[618,45.5],[622,41.2],[630,41.0],[638,40.8],[645,40.6],[652,40.3],[660,40.1],[668,40.6],[675,41.2],[683,42.5],[690,43.2],[697,42.0],[705,41.1],[712,40.2],[720,39.6],[728,40.3],[735,41.5],[742,41.8],[750,42.0],[758,42.5],[765,42.0],[772,42.6],[780,42.3],[788,42.0],[795,42.6],[800,43.1],[808,42.5],[815,42.2],[820,41.9],[830,41.6],[840,41.2],[850,41.4],[860,41.7],[870,41.8],[878,42.5],[885,41.9],[893,41.5],[900,41.7],[908,42.4],[915,43.0],[922,42.1],[930,41.3],[940,41.7],[950,42.3],[960,42.9],[970,43.0],[980,42.7],[990,43.2],[998,42.9],[1005,43.0],[1012,41.8],[1020,40.6],[1030,40.3],[1040,40.5],[1050,40.1],[1060,40.3],[1070,40.0],[1080,39.9],[1090,40.2],[1100,39.8],[1110,40.0],[1120,39.7],[1130,40.1],[1140,39.8],[1150,40.2],[1161,39.4],[1171,39.1],[1182,39.6],[1192,39.4],[1198,40.1],[1211,39.6],[1212,41.7],[1216,41.7],[1217,39.6],[1224,39.1],[1228,38.3],[1238,38.8],[1245,38.2],[1255,37.7],[1266,38.0],[1277,37.8],[1287,38.1],[1296,38.8],[1306,38.2],[1315,40.2],[1321,38.8],[1329,39.4],[1337,38.4],[1344,38.6],[1346,43.3],[1348,44.1],[1350,41.0],[1358,41.6],[1364,39.4],[1373,38.3],[1383,36.6],[1390,38.5],[1398,37.4],[1406,40.0],[1410,37.7],[1419,40.2],[1427,36.6],[1432,35.8],[1436,36.8],[1440,36.2]];

// 15 s min/max envelope: band [minute, min dB, max dB] and max spikes [minute, dB]
var envBand = [[0,57.9,60.7],[200,56.9,60.0],[300,58.4,61.6],[420,58.3,62.0],[600,57.7,60.6],[756,58.3,61.0],[758,62.6,65.4],[900,62.1,65.0],[1200,60.8,64.0],[1222,60.6,63.8],[1228,57.0,61.0],[1260,57.0,61.5],[1300,57.2,64.0],[1340,57.3,63.5],[1380,56.5,63.0],[1410,56.5,63.5],[1440,56.0,60.0]];
var envSpikes = [[21,63.7],[129,69.5],[140,63.0],[162,63.0],[179,62.5],[228,81.3],[260,62.0],[294,81.3],[300,81.3],[341,62.3],[393,80.8],[404,70.5],[418,87.4],[421,76.0],[436,70.0],[488,82.0],[520,63.0],[542,62.7],[590,62.5],[617,82.0],[640,63.0],[700,62.5],[754,62.5],[798,80.3],[808,66.5],[826,68.0],[880,66.0],[908,69.0],[927,66.0],[960,66.0],[986,66.3],[1040,65.5],[1090,66.0],[1130,65.0],[1150,65.5],[1164,65.2],[1167,65.5],[1170,66.0],[1190,66.9],[1195,68.3],[1198,70.5],[1201,68.3],[1204,73.3],[1208,71.6],[1211,67.7],[1214,81.3],[1217,71.0],[1222,71.6],[1226,65.5],[1234,71.6],[1241,72.7],[1247,74.1],[1253,66.6],[1258,66.9],[1264,69.4],[1270,66.9],[1275,66.1],[1282,65.5],[1289,68.6],[1293,66.6],[1298,69.4],[1304,72.2],[1309,73.6],[1312,73.3],[1315,79.9],[1318,73.8],[1320,73.8],[1327,71.6],[1331,71.0],[1334,68.8],[1338,67.2],[1347,77.7],[1351,76.1],[1354,73.3],[1358,76.1],[1361,79.4],[1365,77.7],[1369,77.7],[1373,73.8],[1377,72.7],[1380,76.3],[1385,71.0],[1390,72.7],[1396,67.7],[1400,72.2],[1404,73.0],[1410,79.7],[1413,68.3],[1417,66.6],[1421,64.4],[1426,66.1],[1435,68.6],[1438,63.8]];

// ---- drawing ----
var svg = d3.select("svg");
svg.append("rect").attr("width", 2400).attr("height", 1200).attr("fill", "#fff");

var x = d3.scaleLinear().domain([0, 1440]).range([59, 2343]);
var minorX = d3.range(30, 1440, 30).filter(function(m) { return m % 120 !== 0; });
var minorY = d3.range(28, 108, 4).filter(function(v) { return v % 12 !== 0; });

svg.append("text").attr("class", "title").attr("x", 24).attr("y", 23).text("data from [421/mic0]");
svg.append("text").attr("class", "title").attr("x", 24).attr("y", 39).text("starting point is [20250107_000007]");

function pad(n) { return (n < 10 ? "0" : "") + n; }

function panel(top, bottom, title, tickFmt) {
  var y = d3.scaleLinear().domain([24, 108]).range([bottom, top]);
  var g = svg.append("g");

  g.append("rect").attr("x", x(0)).attr("y", top)
    .attr("width", x(1440) - x(0)).attr("height", bottom - top)
    .attr("fill", "#fef6dc");

  // grid
  g.selectAll(".gxm").data(minorX).enter().append("line")
    .attr("x1", x).attr("x2", x).attr("y1", top).attr("y2", bottom)
    .attr("stroke", "#c8c4b4").attr("stroke-width", 1).attr("stroke-dasharray", "2,2");
  g.selectAll(".gym").data(minorY).enter().append("line")
    .attr("x1", x(0)).attr("x2", x(1440)).attr("y1", y).attr("y2", y)
    .attr("stroke", "#b8b4a8").attr("stroke-width", 1).attr("stroke-dasharray", "4,2");
  g.selectAll(".gx").data(hourTicks.slice(1)).enter().append("line")
    .attr("x1", x).attr("x2", x).attr("y1", top).attr("y2", bottom)
    .attr("stroke", "#aaaaaa").attr("stroke-width", 1.5);
  g.selectAll(".gy").data(yMajor.slice(1, -1)).enter().append("line")
    .attr("x1", x(0)).attr("x2", x(1440)).attr("y1", y).attr("y2", y)
    .attr("stroke", "#aaaaaa").attr("stroke-width", 1.5);

  // axes
  var ax = g.append("g").attr("transform", "translate(0," + bottom + ")");
  ax.call(d3.axisBottom(x).tickValues(hourTicks).tickSize(5).tickPadding(8).tickFormat(tickFmt));
  ax.append("g").call(d3.axisBottom(x).tickValues(minorX).tickSize(3.5).tickFormat(""));
  var ayl = g.append("g").attr("transform", "translate(" + x(0) + ",0)");
  ayl.call(d3.axisLeft(y).tickValues(yMajor).tickSize(7).tickPadding(4));
  ayl.append("g").call(d3.axisLeft(y).tickValues(minorY).tickSize(3.5).tickFormat(""));
  var ayr = g.append("g").attr("transform", "translate(" + x(1440) + ",0)");
  ayr.call(d3.axisRight(y).tickValues(yMajor).tickSize(7).tickPadding(4));
  ayr.append("g").call(d3.axisRight(y).tickValues(minorY).tickSize(3.5).tickFormat(""));
  g.selectAll(".tick line").attr("stroke", "#333");

  g.append("text").attr("class", "subtitle").attr("x", x(0)).attr("y", top - 9).text(title);
  g.append("text").attr("class", "label").attr("text-anchor", "middle")
    .attr("x", (x(0) + x(1440)) / 2).attr("y", bottom + 37).text("time");
  g.append("text").attr("class", "label").attr("text-anchor", "middle")
    .attr("transform", "translate(23," + (top + bottom) / 2 + ") rotate(-90)").text("dB SPL");
  g.append("text").attr("class", "label").attr("text-anchor", "middle")
    .attr("transform", "translate(2386," + (top + bottom) / 2 + ") rotate(-90)").text("dB SPL");

  var plot = svg.append("g");
  svg.append("rect").attr("x", x(0)).attr("y", top)
    .attr("width", x(1440) - x(0)).attr("height", bottom - top)
    .attr("fill", "none").attr("stroke", "#000").attr("stroke-width", 1.5);
  return { y: y, g: plot };
}

// top panel
var p1 = panel(84, 588, "average and peak noise level (1 min sampling)",
  function(m) { return pad(m / 60) + ":00"; });

function cross(px, py) { return "M" + (px - 2.5) + "," + py + "h5M" + px + "," + (py - 2.5) + "v5"; }
function every5(arr, off) { return arr.map(function(v, i) { return [i * 5 + off, v]; }); }

var peaks = [
  { pts: every5(peakZ5, 1.5).concat(every5(peakZ5b, 4), peakZHi), color: "#2b8cff" },
  { pts: every5(peakC5, 1.5).concat(every5(peakC5b, 4), peakCHi), color: "#ff22ee" },
  { pts: every5(peakA5, 1.5).concat(every5(peakA5b, 4), peakAHi), color: "#2e8b57" }
];
peaks.forEach(function(s) {
  p1.g.append("path")
    .attr("d", s.pts.map(function(d) { return cross(x(d[0]), p1.y(d[1])); }).join(""))
    .attr("stroke", s.color).attr("stroke-width", 1.2).attr("fill", "none").attr("opacity", 0.8);
});

var line1 = d3.line().x(function(d) { return x(d[0]); }).y(function(d) { return p1.y(d[1]); });
[[avgZ, "#4682b4"], [avgC, "#da70d6"], [avgA, "#9acd32"]].forEach(function(s) {
  p1.g.append("path").datum(s[0]).attr("d", line1)
    .attr("fill", "none").attr("stroke", s[1]).attr("stroke-width", 1.6).attr("stroke-linejoin", "round");
});

// top legend
var lg1 = svg.append("g").attr("class", "legend");
lg1.append("rect").attr("x", 2156).attr("y", 543).attr("width", 182).attr("height", 40).attr("rx", 3)
  .attr("fill", "#fef6dc").attr("stroke", "#dccca4");
var leg1 = [
  { t: "peak dB(Z)", c: "#2b8cff", dot: true }, { t: "peak dB(C)", c: "#ff22ee", dot: true }, { t: "peak dB(A)", c: "#2e8b57", dot: true },
  { t: "avg dB(Z)", c: "#4682b4" }, { t: "avg dB(C)", c: "#da70d6" }, { t: "avg dB(A)", c: "#9acd32" }
];
leg1.forEach(function(d, i) {
  var col = Math.floor(i / 3), row = i % 3, cy = 550 + row * 12.3;
  if (d.dot) lg1.append("circle").attr("cx", 2169).attr("cy", cy).attr("r", 2.3).attr("fill", d.c);
  else lg1.append("line").attr("x1", 2258).attr("x2", 2280).attr("y1", cy).attr("y2", cy)
    .attr("stroke", d.c).attr("stroke-width", 3.5);
  lg1.append("text").attr("x", col ? 2286 : 2187).attr("y", cy + 3.5).text(d.t);
});

// bottom panel
var p2 = panel(645, 1149, "average noise level (5 min with 15s min/max dB envelope)",
  function(m) { return pad(m / 60) + ":00:00"; });

p2.g.append("path").datum(envBand)
  .attr("d", d3.area().x(function(d) { return x(d[0]); })
    .y0(function(d) { return p2.y(d[1]); }).y1(function(d) { return p2.y(d[2]); }))
  .attr("fill", "#f08070").attr("opacity", 0.18);
p2.g.selectAll(".spike").data(envSpikes).enter().append("line")
  .attr("x1", function(d) { return x(d[0]); }).attr("x2", function(d) { return x(d[0]); })
  .attr("y1", p2.y(58)).attr("y2", function(d) { return p2.y(d[1]); })
  .attr("stroke", "#f08070").attr("stroke-width", 2).attr("opacity", 0.25);

var line2 = d3.line().x(function(d) { return x(d[0]); }).y(function(d) { return p2.y(d[1]); });
[[lvlZ, "#dc143c"], [lvlC, "#ff8c00"], [lvlA, "#ffd700"]].forEach(function(s) {
  p2.g.append("path").datum(s[0]).attr("d", line2)
    .attr("fill", "none").attr("stroke", s[1]).attr("stroke-width", 1.8).attr("stroke-linejoin", "round");
});

var lg2 = svg.append("g").attr("class", "legend");
lg2.append("rect").attr("x", 2277).attr("y", 1103).attr("width", 61).attr("height", 41).attr("rx", 3)
  .attr("fill", "#fef6dc").attr("stroke", "#dccca4");
[["dB(Z)", "#dc143c"], ["dB(C)", "#ff8c00"], ["dB(A)", "#ffd700"]].forEach(function(d, i) {
  var cy = 1112 + i * 11.3;
  lg2.append("line").attr("x1", 2279).attr("x2", 2301).attr("y1", cy).attr("y2", cy)
    .attr("stroke", d[1]).attr("stroke-width", 3.5);
  lg2.append("text").attr("x", 2308).attr("y", cy + 3.5).text(d[0]);
});
</script>
</body>
</html>
